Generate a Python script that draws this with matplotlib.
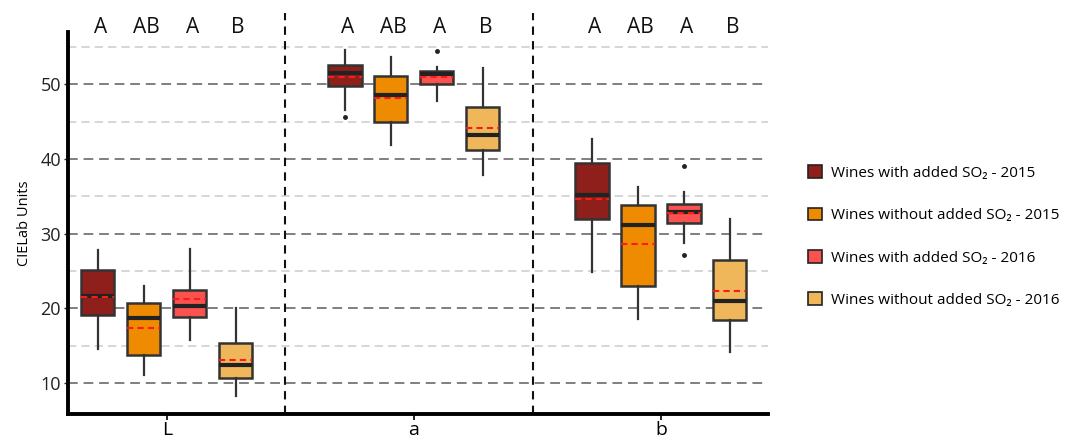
import numpy as np
import matplotlib.pyplot as plt
from matplotlib.patches import Patch

# colour parameters, 4 wine groups each
params = ['L', 'a', 'b']
groups = ['Wines with added SO\u2082 - 2015', 'Wines without added SO\u2082 - 2015',
          'Wines with added SO\u2082 - 2016', 'Wines without added SO\u2082 - 2016']
colors = ['#8E1F1A', '#EF8B00', '#FA524E', '#F0B75A']
letters = ['A', 'AB', 'A', 'B']

# box stats: whislo, q1, med, mean, q3, whishi
whislo = [[14.6, 11.1, 15.8, 8.2], [46.6, 41.8, 47.8, 37.8], [24.8, 18.5, 28.8, 14.1]]
q1 = [[19.1, 13.7, 18.8, 10.7], [49.8, 45.0, 50.0, 41.2], [31.9, 23.0, 31.4, 18.4]]
med = [[21.6, 18.7, 20.3, 12.4], [51.5, 48.6, 51.4, 43.2], [35.1, 31.2, 32.9, 21.0]]
mean = [[21.5, 17.3, 21.2, 13.1], [50.9, 48.1, 51.0, 44.1], [34.6, 28.6, 32.8, 22.3]]
q3 = [[25.1, 20.7, 22.5, 15.4], [52.6, 51.1, 51.7, 46.9], [39.5, 33.8, 33.9, 26.4]]
whishi = [[27.8, 23.0, 27.9, 20.0], [54.6, 53.7, 52.3, 52.1], [42.6, 36.2, 35.6, 31.9]]
fliers = [[[], [], [], []], [[45.6], [], [54.4], []], [[], [], [39.1, 27.2], []]]

fig = plt.figure(figsize=(10.72, 4.43), dpi=100)
ax = fig.add_axes([0.0634, 0.0655, 0.6530, 0.8625])
font = ['Open Sans', 'DejaVu Sans']

offsets = np.array([-1.5, -0.5, 0.5, 1.5]) * 0.186
width = 0.134

for g in range(len(params)):
    for k in range(4):
        st = dict(whislo=whislo[g][k], q1=q1[g][k], med=med[g][k], mean=mean[g][k],
                  q3=q3[g][k], whishi=whishi[g][k], fliers=fliers[g][k])
        ax.bxp([st], positions=[g + offsets[k]], widths=width, patch_artist=True,
               showcaps=False, showmeans=True, meanline=True,
               boxprops=dict(facecolor=colors[k], edgecolor='#333333', linewidth=1.8),
               medianprops=dict(color='#222222', linewidth=3),
               meanprops=dict(color='#FF1A1A', linestyle=(0, (3, 2)), linewidth=1.5),
               whiskerprops=dict(color='#333333', linewidth=1.6),
               flierprops=dict(marker='o', markersize=2.5, markerfacecolor='#222222',
                               markeredgecolor='#222222'), zorder=3)
        ax.text(g + offsets[k] + 0.01, 57.6, letters[k], ha='center', va='center',
                fontsize=15, family=font, color='#111111', clip_on=False)

ax.set_xlim(-0.40, 2.433)
ax.set_ylim(5.85, 57.0)

# grid
for v in [10, 20, 30, 40, 50]:
    ax.axhline(v, color='#7f7f7f', linestyle=(0, (5, 3)), linewidth=1.4, zorder=1)
for v in [15, 25, 35, 45, 55]:
    ax.axhline(v, color='#d0d0d0', linestyle=(0, (5, 3)), linewidth=1.2, zorder=1)

# group separators
for xv in [0.48, 1.48]:
    ax.plot([xv, xv], [5.85, 59.5], color='#111111', linestyle=(0, (4, 3)),
            linewidth=1.5, clip_on=False, zorder=2)

ax.set_yticks([10, 20, 30, 40, 50])
ax.set_xticks(range(len(params)))
ax.set_xticklabels(params, fontsize=14, family=font)
for lab in ax.get_yticklabels():
    lab.set_fontsize(13)
    lab.set_family(font)
ax.tick_params(axis='y', length=3, width=1, pad=2, colors='#222222')
ax.tick_params(axis='x', length=4, width=1.2, pad=1)
ax.set_ylabel('CIELab Units', fontsize=10.5, family=font, labelpad=6)

for s in ['top', 'right']:
    ax.spines[s].set_visible(False)
ax.spines['left'].set_linewidth(2.8)
ax.spines['bottom'].set_linewidth(2.8)

handles = [Patch(facecolor=c, edgecolor='#222222', linewidth=1.2) for c in colors]
fig.legend(handles, groups, loc='center left', bbox_to_anchor=(0.741, 0.466),
           frameon=False, handlelength=0.9, handleheight=0.9, handletextpad=0.6,
           labelspacing=1.75, prop=dict(family=font, size=11))

fig.savefig('out.png', dpi=100)
